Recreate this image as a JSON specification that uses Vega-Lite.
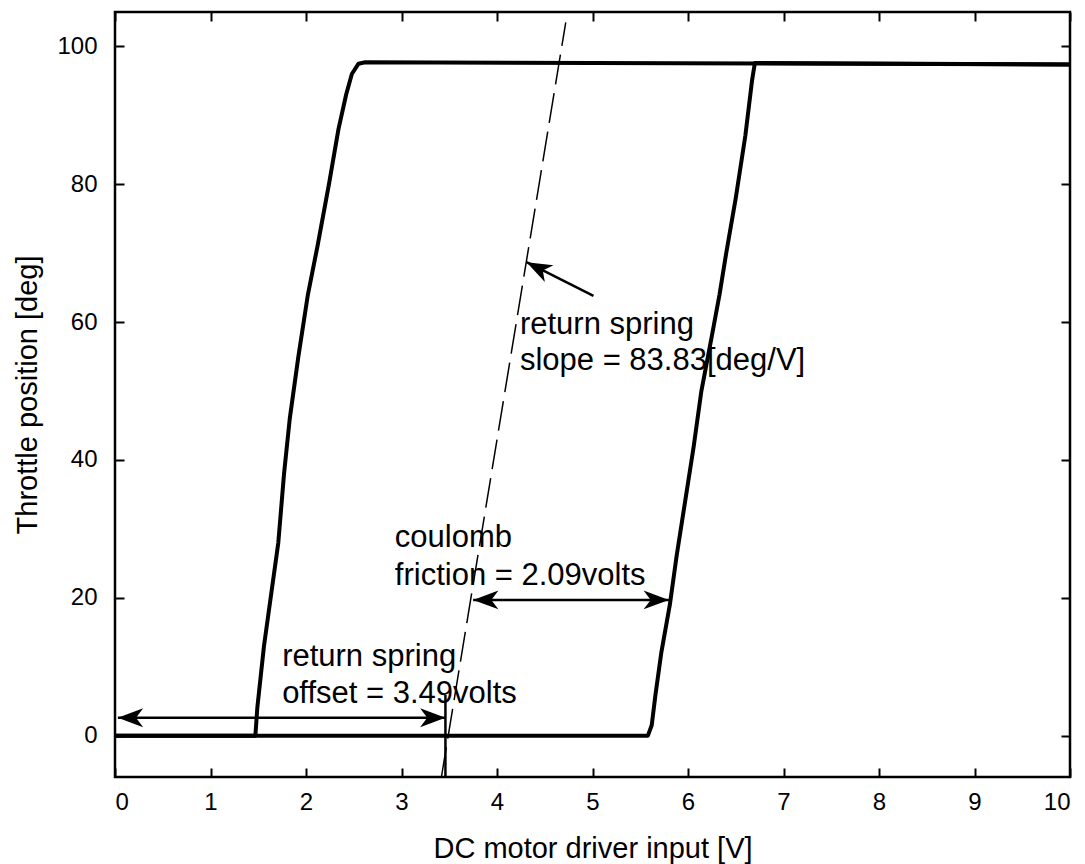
{
  "$schema": "https://vega.github.io/schema/vega-lite/v6.json",
  "width": 955,
  "height": 765,
  "autosize": {"type": "none"},
  "padding": {"left": 115, "top": 12, "right": 15, "bottom": 87},
  "background": "white",
  "config": {
    "view": {"stroke": "black", "strokeWidth": 2.5},
    "axis": {
      "grid": false,
      "domain": false,
      "tickColor": "black",
      "tickWidth": 2,
      "tickSize": -9,
      "labelFont": "Liberation Sans",
      "labelFontSize": 24,
      "labelColor": "black",
      "titleFont": "Liberation Sans",
      "titleFontSize": 29,
      "titleFontWeight": "normal",
      "titleColor": "black"
    }
  },
  "datasets": {
    "curve": [
      {"v": 0, "deg": 0, "branch": "rising", "i": 0},
      {"v": 5.58, "deg": 0, "branch": "rising", "i": 1},
      {"v": 5.62, "deg": 1.5, "branch": "rising", "i": 2},
      {"v": 5.66, "deg": 6, "branch": "rising", "i": 3},
      {"v": 5.72, "deg": 12, "branch": "rising", "i": 4},
      {"v": 5.81, "deg": 19, "branch": "rising", "i": 5},
      {"v": 5.88, "deg": 26, "branch": "rising", "i": 6},
      {"v": 5.97, "deg": 34, "branch": "rising", "i": 7},
      {"v": 6.06, "deg": 42, "branch": "rising", "i": 8},
      {"v": 6.14, "deg": 50, "branch": "rising", "i": 9},
      {"v": 6.25, "deg": 58, "branch": "rising", "i": 10},
      {"v": 6.33, "deg": 64, "branch": "rising", "i": 11},
      {"v": 6.40, "deg": 70, "branch": "rising", "i": 12},
      {"v": 6.50, "deg": 78, "branch": "rising", "i": 13},
      {"v": 6.60, "deg": 87, "branch": "rising", "i": 14},
      {"v": 6.67, "deg": 95, "branch": "rising", "i": 15},
      {"v": 6.70, "deg": 97.6, "branch": "rising", "i": 16},
      {"v": 10, "deg": 97.4, "branch": "rising", "i": 17},
      {"v": 10, "deg": 97.4, "branch": "falling", "i": 0},
      {"v": 2.62, "deg": 97.7, "branch": "falling", "i": 1},
      {"v": 2.55, "deg": 97.5, "branch": "falling", "i": 2},
      {"v": 2.48, "deg": 96, "branch": "falling", "i": 3},
      {"v": 2.42, "deg": 93, "branch": "falling", "i": 4},
      {"v": 2.34, "deg": 88, "branch": "falling", "i": 5},
      {"v": 2.24, "deg": 80, "branch": "falling", "i": 6},
      {"v": 2.12, "deg": 71, "branch": "falling", "i": 7},
      {"v": 2.02, "deg": 64, "branch": "falling", "i": 8},
      {"v": 1.92, "deg": 55, "branch": "falling", "i": 9},
      {"v": 1.83, "deg": 46, "branch": "falling", "i": 10},
      {"v": 1.77, "deg": 38, "branch": "falling", "i": 11},
      {"v": 1.71, "deg": 28, "branch": "falling", "i": 12},
      {"v": 1.63, "deg": 20, "branch": "falling", "i": 13},
      {"v": 1.56, "deg": 13, "branch": "falling", "i": 14},
      {"v": 1.49, "deg": 4, "branch": "falling", "i": 15},
      {"v": 1.47, "deg": 0, "branch": "falling", "i": 16},
      {"v": 0, "deg": 0, "branch": "falling", "i": 17}
    ],
    "slope": [
      {"v": 3.418, "deg": -6},
      {"v": 4.72, "deg": 103.5}
    ],
    "arrows": [
      {"name": "offset", "v": 0.03, "deg": 2.6},
      {"name": "offset", "v": 3.46, "deg": 2.6},
      {"name": "friction", "v": 3.75, "deg": 19.7},
      {"name": "friction", "v": 5.80, "deg": 19.7},
      {"name": "pointer", "v": 5.01, "deg": 63.8},
      {"name": "pointer", "v": 4.31, "deg": 68.7},
      {"name": "marker", "v": 3.46, "deg": -6},
      {"name": "marker", "v": 3.46, "deg": 5.9}
    ],
    "heads": [
      {"v": 0.03, "deg": 2.6, "dir": "left"},
      {"v": 3.46, "deg": 2.6, "dir": "right"},
      {"v": 3.75, "deg": 19.7, "dir": "left"},
      {"v": 5.80, "deg": 19.7, "dir": "right"},
      {"v": 4.31, "deg": 68.7, "dir": "upleft"}
    ],
    "labels": [
      {"text": "return spring", "v": 4.24, "deg": 59.6},
      {"text": "slope = 83.83[deg/V]", "v": 4.24, "deg": 54.4},
      {"text": "coulomb", "v": 2.93, "deg": 28.7},
      {"text": "friction = 2.09volts", "v": 2.93, "deg": 23.2},
      {"text": "return spring", "v": 1.75, "deg": 11.4},
      {"text": "offset = 3.49volts", "v": 1.75, "deg": 6.0}
    ]
  },
  "layer": [
    {
      "data": {"name": "curve"},
      "mark": {"type": "line", "color": "black", "strokeWidth": 4, "strokeJoin": "round"},
      "encoding": {
        "x": {"field": "v", "type": "quantitative", "scale": {"domain": [0, 10], "nice": false, "zero": false},
          "axis": {"values": [0,1,2,3,4,5,6,7,8,9,10], "title": "DC motor driver input [V]", "labelPadding": 22, "titleY": 71, "titleBaseline": "middle"}},
        "y": {"field": "deg", "type": "quantitative", "scale": {"domain": [-6, 105], "nice": false, "zero": false},
          "axis": {"values": [0,20,40,60,80,100], "title": "Throttle position [deg]", "labelPadding": 27, "titleX": -88, "titleBaseline": "middle"}},
        "detail": {"field": "branch"},
        "order": {"field": "i", "type": "quantitative"}
      }
    },
    {
      "data": {"name": "curve"},
      "mark": {"type": "point", "opacity": 0},
      "encoding": {
        "x": {"field": "v", "type": "quantitative", "axis": {"orient": "top", "values": [0,1,2,3,4,5,6,7,8,9,10], "labels": false, "title": null}},
        "y": {"field": "deg", "type": "quantitative", "axis": {"orient": "right", "values": [0,20,40,60,80,100], "labels": false, "title": null}}
      }
    },
    {
      "data": {"name": "slope"},
      "mark": {"type": "line", "color": "black", "strokeWidth": 1.5, "strokeDash": [30, 9]},
      "encoding": {
        "x": {"field": "v", "type": "quantitative", "axis": null},
        "y": {"field": "deg", "type": "quantitative", "axis": null}
      }
    },
    {
      "data": {"name": "arrows"},
      "mark": {"type": "line", "color": "black", "strokeWidth": 2.5},
      "encoding": {
        "x": {"field": "v", "type": "quantitative", "axis": null},
        "y": {"field": "deg", "type": "quantitative", "axis": null},
        "detail": {"field": "name"}
      }
    },
    {
      "data": {"name": "heads"},
      "transform": [{"filter": "datum.dir === 'left'"}],
      "mark": {"type": "point", "shape": "M0,0L1.6,-0.6L1.15,0L1.6,0.6Z", "filled": true, "color": "black", "opacity": 1, "size": 1000},
      "encoding": {
        "x": {"field": "v", "type": "quantitative", "axis": null},
        "y": {"field": "deg", "type": "quantitative", "axis": null}
      }
    },
    {
      "data": {"name": "heads"},
      "transform": [{"filter": "datum.dir === 'right'"}],
      "mark": {"type": "point", "shape": "M0,0L-1.6,-0.6L-1.15,0L-1.6,0.6Z", "filled": true, "color": "black", "opacity": 1, "size": 1000},
      "encoding": {
        "x": {"field": "v", "type": "quantitative", "axis": null},
        "y": {"field": "deg", "type": "quantitative", "axis": null}
      }
    },
    {
      "data": {"name": "heads"},
      "transform": [{"filter": "datum.dir === 'upleft'"}],
      "mark": {"type": "point", "shape": "M0,0L1.6,-0.6L1.15,0L1.6,0.6Z", "filled": true, "color": "black", "opacity": 1, "size": 1000, "angle": 27},
      "encoding": {
        "x": {"field": "v", "type": "quantitative", "axis": null},
        "y": {"field": "deg", "type": "quantitative", "axis": null}
      }
    },
    {
      "data": {"name": "labels"},
      "mark": {"type": "text", "align": "left", "baseline": "middle", "font": "Liberation Sans", "fontSize": 31, "color": "black"},
      "encoding": {
        "x": {"field": "v", "type": "quantitative", "axis": null},
        "y": {"field": "deg", "type": "quantitative", "axis": null},
        "text": {"field": "text"}
      }
    }
  ],
  "resolve": {"axis": {"x": "independent", "y": "independent"}}
}
